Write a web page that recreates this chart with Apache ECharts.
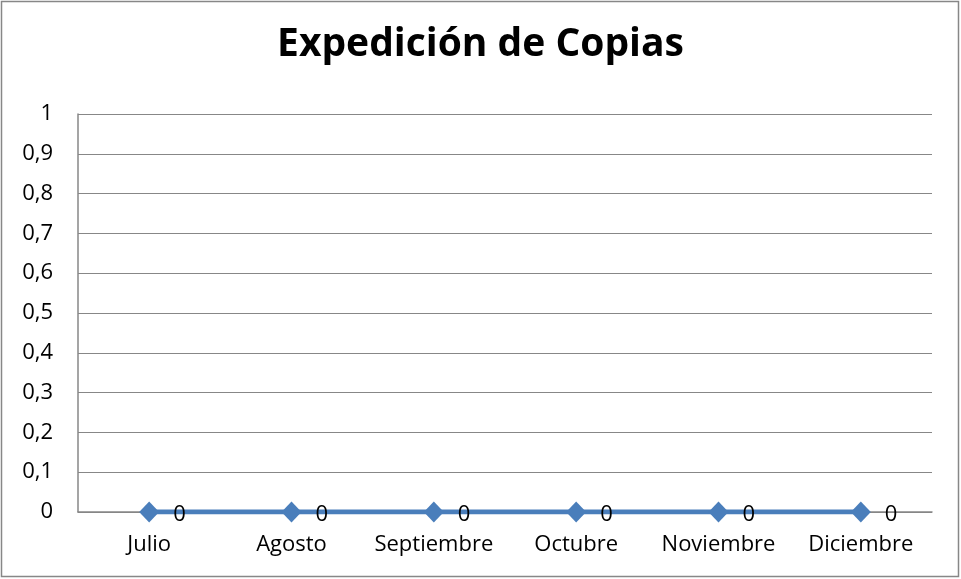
<!DOCTYPE html>
<html>
<head>
<meta charset="utf-8">
<script src="https://cdn.jsdelivr.net/npm/echarts@6/dist/echarts.min.js"></script>
<style>
  html, body { margin: 0; padding: 0; background: #fff; }
  #chart { width: 961px; height: 579px; }
</style>
</head>
<body>
<div id="chart"></div>
<script>
// data
const months = ['Julio', 'Agosto', 'Septiembre', 'Octubre', 'Noviembre', 'Diciembre'];
const copias = [0, 0, 0, 0, 0, 0];
const chartTitle = 'Expedición de Copias';

const chart = echarts.init(document.getElementById('chart'), null, { renderer: 'canvas' });

chart.setOption({
  animation: false,
  backgroundColor: '#fff',
  textStyle: { fontFamily: 'Open Sans' },
  title: {
    text: chartTitle,
    left: 'center',
    top: 20,
    textStyle: { fontFamily: 'Open Sans', fontWeight: 'bold', fontSize: 39, color: '#000' }
  },
  graphic: [{
    type: 'rect',
    shape: { x: 1.5, y: 1.5, width: 957, height: 575 },
    style: { fill: 'none', stroke: '#878787', lineWidth: 1.5 },
    silent: true
  }],
  grid: { left: 78, right: 29, top: 114, bottom: 67, containLabel: false },
  xAxis: {
    type: 'category',
    data: months,
    boundaryGap: true,
    axisLine: { lineStyle: { color: '#878787', width: 1.5 } },
    axisTick: { show: false },
    axisLabel: { color: '#000', fontSize: 22, margin: 22, interval: 0 }
  },
  yAxis: {
    type: 'value',
    min: 0,
    max: 1,
    interval: 0.1,
    axisLine: { show: true, lineStyle: { color: '#878787', width: 1.5 } },
    axisTick: { show: false },
    splitLine: { lineStyle: { color: '#878787', width: 1.2 } },
    axisLabel: {
      color: '#000',
      fontSize: 22,
      margin: 25,
      formatter: v => String(Math.round(v * 10) / 10).replace('.', ',')
    }
  },
  series: [{
    type: 'line',
    data: copias,
    symbol: 'diamond',
    symbolSize: [20, 21],
    lineStyle: { color: '#4A7EBB', width: 5 },
    itemStyle: { color: '#4A7EBB' },
    label: {
      show: true,
      position: 'right',
      distance: 14,
      offset: [0, 3],
      color: '#000',
      fontSize: 22
    }
  }]
});
</script>
</body>
</html>
